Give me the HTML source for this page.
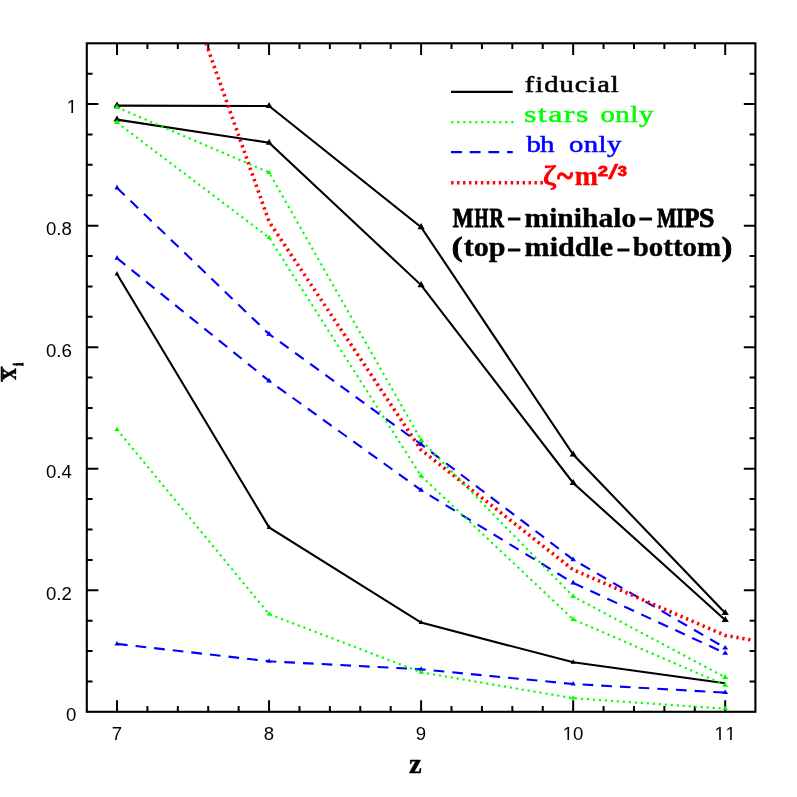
<!DOCTYPE html>
<html><head><meta charset="utf-8"><title>plot</title>
<style>
html,body{margin:0;padding:0;background:#fff;}
body{width:797px;height:797px;overflow:hidden;}
svg{display:block;will-change:transform;}
.s{font-family:"Liberation Sans",sans-serif;font-size:18.6px;fill:#000;}
.r{font-family:"Liberation Serif",serif;font-size:24px;}
.b{font-family:"Liberation Serif",serif;font-weight:bold;font-size:26px;}
</style></head><body>
<svg width="797" height="797" viewBox="0 0 797 797">
<rect width="797" height="797" fill="#fff"/>
<defs><clipPath id="c"><rect x="87.80" y="44.30" width="666.60" height="666.50"/></clipPath></defs>
<rect x="86.8" y="43.3" width="668.6" height="668.5" fill="none" stroke="#000" stroke-width="2.1"/>
<path d="M117.00 711.8v-11.6M117.00 43.3v11.6M147.41 711.8v-5.8M147.41 43.3v5.8M177.82 711.8v-5.8M177.82 43.3v5.8M208.23 711.8v-5.8M208.23 43.3v5.8M238.64 711.8v-5.8M238.64 43.3v5.8M269.05 711.8v-11.6M269.05 43.3v11.6M299.46 711.8v-5.8M299.46 43.3v5.8M329.87 711.8v-5.8M329.87 43.3v5.8M360.28 711.8v-5.8M360.28 43.3v5.8M390.69 711.8v-5.8M390.69 43.3v5.8M421.10 711.8v-11.6M421.10 43.3v11.6M451.51 711.8v-5.8M451.51 43.3v5.8M481.92 711.8v-5.8M481.92 43.3v5.8M512.33 711.8v-5.8M512.33 43.3v5.8M542.74 711.8v-5.8M542.74 43.3v5.8M573.15 711.8v-11.6M573.15 43.3v11.6M603.56 711.8v-5.8M603.56 43.3v5.8M633.97 711.8v-5.8M633.97 43.3v5.8M664.38 711.8v-5.8M664.38 43.3v5.8M694.79 711.8v-5.8M694.79 43.3v5.8M725.20 711.8v-11.6M725.20 43.3v11.6M86.8 681.41h5.8M755.4 681.41h-5.8M86.8 651.03h5.8M755.4 651.03h-5.8M86.8 620.64h5.8M755.4 620.64h-5.8M86.8 590.26h11.6M755.4 590.26h-11.6M86.8 559.88h5.8M755.4 559.88h-5.8M86.8 529.49h5.8M755.4 529.49h-5.8M86.8 499.10h5.8M755.4 499.10h-5.8M86.8 468.72h11.6M755.4 468.72h-11.6M86.8 438.33h5.8M755.4 438.33h-5.8M86.8 407.95h5.8M755.4 407.95h-5.8M86.8 377.56h5.8M755.4 377.56h-5.8M86.8 347.18h11.6M755.4 347.18h-11.6M86.8 316.79h5.8M755.4 316.79h-5.8M86.8 286.41h5.8M755.4 286.41h-5.8M86.8 256.02h5.8M755.4 256.02h-5.8M86.8 225.64h11.6M755.4 225.64h-11.6M86.8 195.25h5.8M755.4 195.25h-5.8M86.8 164.87h5.8M755.4 164.87h-5.8M86.8 134.48h5.8M755.4 134.48h-5.8M86.8 104.10h11.6M755.4 104.10h-11.6M86.8 73.71h5.8M755.4 73.71h-5.8" stroke="#000" stroke-width="2" fill="none"/>
<g clip-path="url(#c)">
<polyline points="117.0,105.6 269.1,106.0 421.1,227.1 573.2,454.5 725.2,613.0" fill="none" stroke="#000" stroke-width="2.1" stroke-linejoin="miter"/>
<polygon points="117.0,101.5 113.5,107.6 120.5,107.6" fill="#000"/>
<polygon points="269.1,102.0 265.8,108.0 272.4,108.0" fill="#000"/>
<polygon points="421.1,223.0 417.5,229.2 424.7,229.2" fill="#000"/>
<polygon points="573.2,450.4 569.6,456.6 576.8,456.6" fill="#000"/>
<polygon points="725.2,609.1 721.6,615.0 728.8,615.0" fill="#000"/>
<polyline points="117.0,119.6 269.1,142.7 421.1,285.1 573.2,483.0 725.2,620.0" fill="none" stroke="#000" stroke-width="2.1" stroke-linejoin="miter"/>
<polygon points="117.0,115.5 113.5,121.6 120.5,121.6" fill="#000"/>
<polygon points="269.1,138.7 265.8,144.7 272.4,144.7" fill="#000"/>
<polygon points="421.1,281.0 417.5,287.2 424.7,287.2" fill="#000"/>
<polygon points="573.2,478.9 569.6,485.1 576.8,485.1" fill="#000"/>
<polygon points="725.2,616.1 721.6,622.0 728.8,622.0" fill="#000"/>
<polyline points="117.0,274.0 269.1,527.4 421.1,622.6 573.2,662.3 725.2,683.3" fill="none" stroke="#000" stroke-width="2.1" stroke-linejoin="miter"/>
<polygon points="117.0,270.9 114.6,275.5 119.4,275.5" fill="#000"/>
<polygon points="269.1,524.4 266.6,528.9 271.6,528.9" fill="#000"/>
<polygon points="421.1,619.6 418.5,624.1 423.7,624.1" fill="#000"/>
<polygon points="573.2,659.3 570.7,663.8 575.7,663.8" fill="#000"/>
<polyline points="117.0,187.8 269.1,334.1 421.1,444.3 573.2,559.6 725.2,647.9" fill="none" stroke="#0000ff" stroke-width="2.1" stroke-dasharray="10.7 8.0"/>
<polygon points="117.0,184.6 114.5,189.4 119.5,189.4" fill="#0000ff"/>
<polygon points="269.1,330.9 266.2,335.7 271.9,335.7" fill="#0000ff"/>
<polygon points="421.1,441.1 418.3,445.9 423.9,445.9" fill="#0000ff"/>
<polygon points="573.2,556.4 570.4,561.2 576.0,561.2" fill="#0000ff"/>
<polygon points="725.2,644.9 722.2,649.4 728.2,649.4" fill="#0000ff"/>
<polyline points="117.0,258.1 269.1,380.9 421.1,490.1 573.2,582.9 725.2,653.2" fill="none" stroke="#0000ff" stroke-width="2.1" stroke-dasharray="10.7 8.0"/>
<polygon points="117.0,254.9 114.5,259.7 119.5,259.7" fill="#0000ff"/>
<polygon points="269.1,377.7 266.2,382.5 271.9,382.5" fill="#0000ff"/>
<polygon points="421.1,486.9 418.3,491.7 423.9,491.7" fill="#0000ff"/>
<polygon points="573.2,579.7 570.4,584.5 576.0,584.5" fill="#0000ff"/>
<polygon points="725.2,650.2 722.2,654.7 728.2,654.7" fill="#0000ff"/>
<polyline points="117.0,643.9 269.1,661.3 421.1,669.3 573.2,684.0 725.2,692.6" fill="none" stroke="#0000ff" stroke-width="2.1" stroke-dasharray="10.7 8.0"/>
<polygon points="117.0,640.9 114.5,645.4 119.5,645.4" fill="#0000ff"/>
<polygon points="269.1,658.3 266.6,662.8 271.6,662.8" fill="#0000ff"/>
<polygon points="421.1,666.3 418.6,670.8 423.6,670.8" fill="#0000ff"/>
<polygon points="573.2,681.0 570.7,685.5 575.7,685.5" fill="#0000ff"/>
<polygon points="725.2,689.6 722.2,694.1 728.2,694.1" fill="#0000ff"/>
<polyline points="206.0,43.3 269.1,221.7 421.1,449.9 573.1,569.7 725.2,635.4 755.4,640.7" fill="none" stroke="#ff0000" stroke-width="3.6" stroke-dasharray="2.3 3.7"/>
<polyline points="117.0,107.3 269.1,172.5 421.1,440.1 573.2,596.5 725.2,677.3" fill="none" stroke="#00ff00" stroke-width="2.1" stroke-dasharray="2.2 3.8"/>
<polygon points="117.0,104.1 114.0,108.9 120.0,108.9" fill="#00ff00"/>
<polygon points="269.1,169.6 266.6,173.9 271.6,173.9" fill="#00ff00"/>
<polygon points="421.1,436.9 418.2,441.7 424.0,441.7" fill="#00ff00"/>
<polygon points="573.2,593.3 570.3,598.1 576.1,598.1" fill="#00ff00"/>
<polygon points="725.2,674.1 722.2,678.9 728.2,678.9" fill="#00ff00"/>
<polyline points="117.0,122.5 269.1,237.6 421.1,476.0 573.2,619.4 725.2,685.1" fill="none" stroke="#00ff00" stroke-width="2.1" stroke-dasharray="2.2 3.8"/>
<polygon points="117.0,119.3 114.0,124.1 120.0,124.1" fill="#00ff00"/>
<polygon points="269.1,234.7 266.6,239.0 271.6,239.0" fill="#00ff00"/>
<polygon points="421.1,472.8 418.2,477.6 424.0,477.6" fill="#00ff00"/>
<polygon points="573.2,616.2 570.3,621.0 576.1,621.0" fill="#00ff00"/>
<polygon points="725.2,681.9 722.2,686.7 728.2,686.7" fill="#00ff00"/>
<polyline points="117.0,429.5 269.1,614.2 421.1,672.3 573.2,698.2 725.2,708.7" fill="none" stroke="#00ff00" stroke-width="2.1" stroke-dasharray="2.2 3.8"/>
<polygon points="117.0,426.6 114.5,430.9 119.5,430.9" fill="#00ff00"/>
<polygon points="269.1,611.3 266.6,615.6 271.6,615.6" fill="#00ff00"/>
<polygon points="421.1,669.4 418.5,673.7 423.7,673.7" fill="#00ff00"/>
<polygon points="573.2,695.3 570.6,699.6 575.8,699.6" fill="#00ff00"/>
<polygon points="725.2,705.8 722.5,710.1 728.0,710.1" fill="#00ff00"/>
</g>
<text class="s" x="116.9" y="739.9" text-anchor="middle">7</text>
<text class="s" x="268.9" y="739.9" text-anchor="middle">8</text>
<text class="s" x="421.0" y="739.9" text-anchor="middle">9</text>
<text class="s" x="562.71" y="739.9">10</text>
<rect x="563.01" y="737.40" width="4.35" height="3.2" fill="#fff"/><rect x="569.06" y="737.40" width="4.3" height="3.2" fill="#fff"/>
<text class="s" x="714.55 725.4" y="739.9">11</text>
<rect x="714.85" y="737.40" width="4.35" height="3.2" fill="#fff"/><rect x="720.90" y="737.40" width="4.3" height="3.2" fill="#fff"/>
<rect x="725.70" y="737.40" width="4.35" height="3.2" fill="#fff"/><rect x="731.75" y="737.40" width="4.3" height="3.2" fill="#fff"/>
<text class="s" x="66.63" y="113.4">1</text>
<rect x="66.93" y="110.90" width="4.35" height="3.2" fill="#fff"/><rect x="72.98" y="110.90" width="4.3" height="3.2" fill="#fff"/>
<text class="s" x="71.9" y="234.9" text-anchor="end">0.8</text>
<text class="s" x="71.9" y="356.5" text-anchor="end">0.6</text>
<text class="s" x="71.9" y="478.0" text-anchor="end">0.4</text>
<text class="s" x="71.9" y="599.6" text-anchor="end">0.2</text>
<text class="s" x="71.2" y="721.1" text-anchor="middle">0</text>
<line x1="451" y1="91.8" x2="512.8" y2="91.8" stroke="#000" stroke-width="2.2"/>
<line x1="451.2" y1="122.1" x2="513.5" y2="122.1" stroke="#00ff00" stroke-width="2.2" stroke-dasharray="2.2 3.8"/>
<line x1="451" y1="152.2" x2="512.8" y2="152.2" stroke="#0000ff" stroke-width="2.2" stroke-dasharray="10.9 7.8"/>
<line x1="451.1" y1="182.7" x2="543.5" y2="182.7" stroke="#ff0000" stroke-width="3.6" stroke-dasharray="2.4 3.56"/>
<text transform="translate(524.83,92.2) scale(1.18,1)" font-family="Liberation Serif, serif" font-weight="normal" font-size="24" letter-spacing="0.901" fill="#000" stroke="#000" stroke-width="0.6" vector-effect="non-scaling-stroke">fiducial</text>
<text transform="translate(523.89,122.3) scale(1.33,1)" font-family="Liberation Serif, serif" font-weight="normal" font-size="24" letter-spacing="1.138" fill="#00ff00" stroke="#00ff00" stroke-width="0.6" vector-effect="non-scaling-stroke">stars</text>
<text transform="translate(600.40,122.3) scale(1.2,1)" font-family="Liberation Serif, serif" font-weight="normal" font-size="24" letter-spacing="0.474" fill="#00ff00" stroke="#00ff00" stroke-width="0.6" vector-effect="non-scaling-stroke">only</text>
<text transform="translate(526.40,152.4) scale(1.2,1)" font-family="Liberation Serif, serif" font-weight="normal" font-size="24" letter-spacing="-0.684" fill="#0000ff" stroke="#0000ff" stroke-width="0.6" vector-effect="non-scaling-stroke">bh</text>
<text transform="translate(568.90,152.4) scale(1.2,1)" font-family="Liberation Serif, serif" font-weight="normal" font-size="24" letter-spacing="0.336" fill="#0000ff" stroke="#0000ff" stroke-width="0.6" vector-effect="non-scaling-stroke">only</text>
<text><tspan x="543.08" y="184.5" textLength="13.56" lengthAdjust="spacingAndGlyphs" font-family="Liberation Serif, serif" font-weight="normal" font-size="26.6" fill="#ff0000" stroke="#ff0000" stroke-width="1.0">ζ</tspan><tspan x="557.06" y="187.0" textLength="16.04" lengthAdjust="spacingAndGlyphs" font-family="Liberation Serif, serif" font-weight="bold" font-size="34" fill="#ff0000" stroke="#ff0000" stroke-width="0.8">~</tspan><tspan x="574.70" y="184.5" textLength="23.12" lengthAdjust="spacingAndGlyphs" font-family="Liberation Serif, serif" font-weight="bold" font-size="28" fill="#ff0000" stroke="#ff0000" stroke-width="0.3">m</tspan><tspan x="598.03" y="176.2" textLength="9.93" lengthAdjust="spacingAndGlyphs" font-family="Liberation Sans, sans-serif" font-weight="bold" font-size="14.8" fill="#ff0000" stroke="#ff0000" stroke-width="0.9">2</tspan><tspan x="608.20" y="179.0" textLength="9.70" lengthAdjust="spacingAndGlyphs" font-family="Liberation Sans, sans-serif" font-weight="normal" font-size="21" fill="#ff0000" stroke="#ff0000" stroke-width="0.6">/</tspan><tspan x="617.87" y="176.2" textLength="9.17" lengthAdjust="spacingAndGlyphs" font-family="Liberation Sans, sans-serif" font-weight="bold" font-size="14.8" fill="#ff0000" stroke="#ff0000" stroke-width="0.9">3</tspan></text>
<text><tspan x="452.77" y="226.5" textLength="20.81" lengthAdjust="spacingAndGlyphs" font-family="Liberation Serif, serif" font-weight="bold" font-size="26.3" fill="#000" stroke="#000" stroke-width="0.9">M</tspan><tspan x="474.44" y="226.5" textLength="13.90" lengthAdjust="spacingAndGlyphs" font-family="Liberation Serif, serif" font-weight="bold" font-size="26.3" fill="#000" stroke="#000" stroke-width="0.9">H</tspan><tspan x="489.51" y="226.5" textLength="14.37" lengthAdjust="spacingAndGlyphs" font-family="Liberation Serif, serif" font-weight="bold" font-size="26.3" fill="#000" stroke="#000" stroke-width="0.9">R</tspan><tspan x="508.55" y="225.3" textLength="11.29" lengthAdjust="spacingAndGlyphs" font-family="Liberation Serif, serif" font-weight="bold" font-size="26.3" fill="#000" stroke="#000" stroke-width="1.0">–</tspan><tspan x="524.58" y="226.5" textLength="111.57" lengthAdjust="spacingAndGlyphs" font-family="Liberation Serif, serif" font-weight="bold" font-size="27.5" fill="#000" stroke="#000" stroke-width="0.35">minihalo</tspan><tspan x="639.96" y="225.3" textLength="11.49" lengthAdjust="spacingAndGlyphs" font-family="Liberation Serif, serif" font-weight="bold" font-size="26.3" fill="#000" stroke="#000" stroke-width="1.0">–</tspan><tspan x="657.10" y="226.5" textLength="19.34" lengthAdjust="spacingAndGlyphs" font-family="Liberation Serif, serif" font-weight="bold" font-size="26.3" fill="#000" stroke="#000" stroke-width="0.9">M</tspan><tspan x="676.28" y="226.5" textLength="7.74" lengthAdjust="spacingAndGlyphs" font-family="Liberation Serif, serif" font-weight="bold" font-size="26.3" fill="#000" stroke="#000" stroke-width="0.9">I</tspan><tspan x="684.22" y="226.5" textLength="15.23" lengthAdjust="spacingAndGlyphs" font-family="Liberation Serif, serif" font-weight="bold" font-size="26.3" fill="#000" stroke="#000" stroke-width="0.9">P</tspan><tspan x="698.97" y="226.5" textLength="15.46" lengthAdjust="spacingAndGlyphs" font-family="Liberation Serif, serif" font-weight="bold" font-size="26.3" fill="#000" stroke="#000" stroke-width="0.9">S</tspan></text>
<text><tspan x="451.68" y="256.4" textLength="10.76" lengthAdjust="spacingAndGlyphs" font-family="Liberation Serif, serif" font-weight="bold" font-size="27.5" fill="#000" stroke="#000" stroke-width="0.8">(</tspan><tspan x="463.69" y="256.4" textLength="41.86" lengthAdjust="spacingAndGlyphs" font-family="Liberation Serif, serif" font-weight="bold" font-size="27.5" fill="#000" stroke="#000" stroke-width="0.35">top</tspan><tspan x="508.55" y="255.7" textLength="11.29" lengthAdjust="spacingAndGlyphs" font-family="Liberation Serif, serif" font-weight="bold" font-size="26.3" fill="#000" stroke="#000" stroke-width="1.0">–</tspan><tspan x="524.57" y="256.4" textLength="88.64" lengthAdjust="spacingAndGlyphs" font-family="Liberation Serif, serif" font-weight="bold" font-size="27.5" fill="#000" stroke="#000" stroke-width="0.35">middle</tspan><tspan x="617.95" y="255.7" textLength="10.90" lengthAdjust="spacingAndGlyphs" font-family="Liberation Serif, serif" font-weight="bold" font-size="26.3" fill="#000" stroke="#000" stroke-width="1.0">–</tspan><tspan x="632.71" y="256.4" textLength="88.41" lengthAdjust="spacingAndGlyphs" font-family="Liberation Serif, serif" font-weight="bold" font-size="27.5" fill="#000" stroke="#000" stroke-width="0.35">bottom</tspan><tspan x="721.88" y="256.4" textLength="10.50" lengthAdjust="spacingAndGlyphs" font-family="Liberation Serif, serif" font-weight="bold" font-size="27.5" fill="#000" stroke="#000" stroke-width="0.8">)</tspan></text>
<text><tspan x="409.04" y="773.0" textLength="12.69" lengthAdjust="spacingAndGlyphs" font-family="Liberation Serif, serif" font-weight="bold" font-size="27.5" fill="#000" stroke="#000" stroke-width="0.4">z</tspan></text>
<g transform="translate(16.0,380.3) rotate(-90)">
<text><tspan x="0.56" y="0" textLength="11.51" lengthAdjust="spacingAndGlyphs" font-family="Liberation Serif, serif" font-weight="bold" font-size="28" fill="#000" stroke="#000" stroke-width="0.3">x</tspan></text>
<text><tspan x="14.52" y="6.8" textLength="2.88" lengthAdjust="spacingAndGlyphs" font-family="Liberation Serif, serif" font-weight="bold" font-size="15.5" fill="#000" stroke="#000" stroke-width="1.1">i</tspan></text>
</g>
<line x1="1.8" y1="366.4" x2="1.8" y2="381.8" stroke="#000" stroke-width="2.1"/>
</svg>
</body></html>
